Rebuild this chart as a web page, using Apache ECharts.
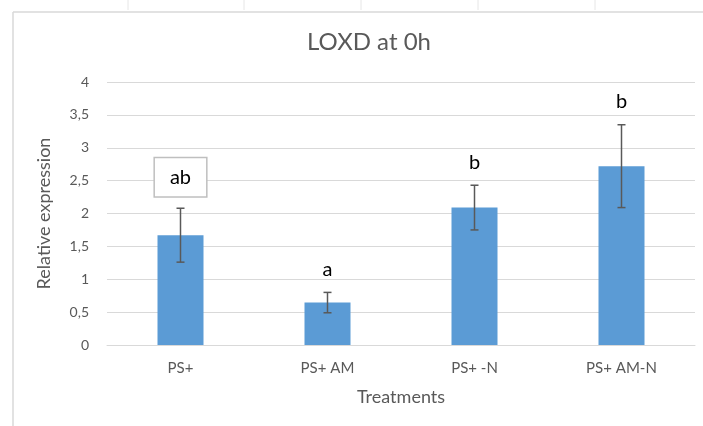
<!DOCTYPE html>
<html>
<head>
<meta charset="utf-8">
<script src="https://cdn.jsdelivr.net/npm/echarts@6/dist/echarts.min.js"></script>
<style>
  html, body { margin: 0; padding: 0; background: #fff; }
  #chart { width: 703px; height: 426px; }
</style>
</head>
<body>
<div id="chart"></div>
<script>
// LOXD relative expression at 0h, per treatment
const categories = ['PS+', 'PS+ AM', 'PS+ -N', 'PS+ AM-N'];
const means = [1.67, 0.645, 2.09, 2.72];
const errors = [0.41, 0.155, 0.34, 0.63];
const groupLetters = ['ab', 'a', 'b', 'b'];
const yTicks = [0, 0.5, 1, 1.5, 2, 2.5, 3, 3.5, 4];

const FONT = 'Lato, "Open Sans", sans-serif';
const GREY = '#595959';

const chart = echarts.init(document.getElementById('chart'), null, { renderer: 'canvas' });

const errData = categories.map((c, i) => [i, means[i] - errors[i], means[i] + errors[i]]);

chart.setOption({
  animation: false,
  backgroundColor: '#fff',
  title: {
    text: 'LOXD at 0h',
    left: 364,
    top: 25,
    textAlign: 'center',
    textStyle: { fontFamily: FONT, fontSize: 24, fontWeight: 'normal', color: GREY }
  },
  grid: { left: 107, right: 8, top: 82, bottom: 81 },
  xAxis: {
    type: 'category',
    data: categories,
    name: 'Treatments',
    nameLocation: 'middle',
    nameGap: 43,
    nameTextStyle: { fontFamily: FONT, fontSize: 18, color: GREY },
    axisLine: { lineStyle: { color: '#d9d9d9', width: 1 } },
    axisTick: { show: false },
    axisLabel: { fontFamily: FONT, fontSize: 15, color: GREY, margin: 16 }
  },
  yAxis: {
    type: 'value',
    min: yTicks[0],
    max: yTicks[yTicks.length - 1],
    interval: yTicks[1] - yTicks[0],
    name: 'Relative expression',
    nameLocation: 'middle',
    nameGap: 54,
    nameTextStyle: { fontFamily: FONT, fontSize: 18, color: GREY },
    axisLine: { show: false },
    axisTick: { show: false },
    axisLabel: {
      fontFamily: FONT, fontSize: 14, color: GREY, margin: 18,
      formatter: v => String(v).replace('.', ',')
    },
    splitLine: { lineStyle: { color: '#d9d9d9', width: 1 } }
  },
  series: [
    {
      type: 'bar',
      data: means,
      barWidth: 46,
      itemStyle: { color: '#5b9bd5' }
    },
    {
      type: 'custom',
      data: errData,
      z: 10,
      renderItem: (params, api) => {
        const x = api.coord([api.value(0), 0])[0];
        const lo = api.coord([api.value(0), api.value(1)])[1];
        const hi = api.coord([api.value(0), api.value(2)])[1];
        const letter = groupLetters[params.dataIndex];
        const cap = 4;
        const stroke = { stroke: GREY, lineWidth: 1.5 };
        const boxed = letter === 'ab';
        return {
          type: 'group',
          children: [
            { type: 'line', shape: { x1: x, y1: lo, x2: x, y2: hi }, style: stroke },
            { type: 'line', shape: { x1: x - cap, y1: hi, x2: x + cap, y2: hi }, style: stroke },
            { type: 'line', shape: { x1: x - cap, y1: lo, x2: x + cap, y2: lo }, style: stroke },
            {
              type: 'text',
              x: x,
              y: hi - (boxed ? 31 : 23),
              style: {
                text: letter,
                fontFamily: FONT,
                fontSize: 20,
                fill: '#000',
                align: 'center',
                verticalAlign: 'middle',
                backgroundColor: boxed ? '#fff' : 'transparent',
                borderColor: boxed ? '#bfbfbf' : 'transparent',
                borderWidth: boxed ? 1.5 : 0,
                padding: boxed ? [9, 15, 9, 15] : 0
              }
            }
          ]
        };
      }
    }
  ],
  graphic: [
    { type: 'line', shape: { x1: 13, y1: 12, x2: 703, y2: 12 }, style: { stroke: '#d9d9d9', lineWidth: 1.5 } },
    { type: 'line', shape: { x1: 13, y1: 12, x2: 13, y2: 426 }, style: { stroke: '#d9d9d9', lineWidth: 1.5 } },
    { type: 'line', shape: { x1: 128, y1: 0, x2: 128, y2: 10 }, style: { stroke: '#e6e6e6', lineWidth: 1 } },
    { type: 'line', shape: { x1: 244, y1: 0, x2: 244, y2: 10 }, style: { stroke: '#e6e6e6', lineWidth: 1 } },
    { type: 'line', shape: { x1: 361, y1: 0, x2: 361, y2: 10 }, style: { stroke: '#e6e6e6', lineWidth: 1 } },
    { type: 'line', shape: { x1: 478, y1: 0, x2: 478, y2: 10 }, style: { stroke: '#e6e6e6', lineWidth: 1 } },
    { type: 'line', shape: { x1: 595, y1: 0, x2: 595, y2: 10 }, style: { stroke: '#e6e6e6', lineWidth: 1 } }
  ]
});
</script>
</body>
</html>
